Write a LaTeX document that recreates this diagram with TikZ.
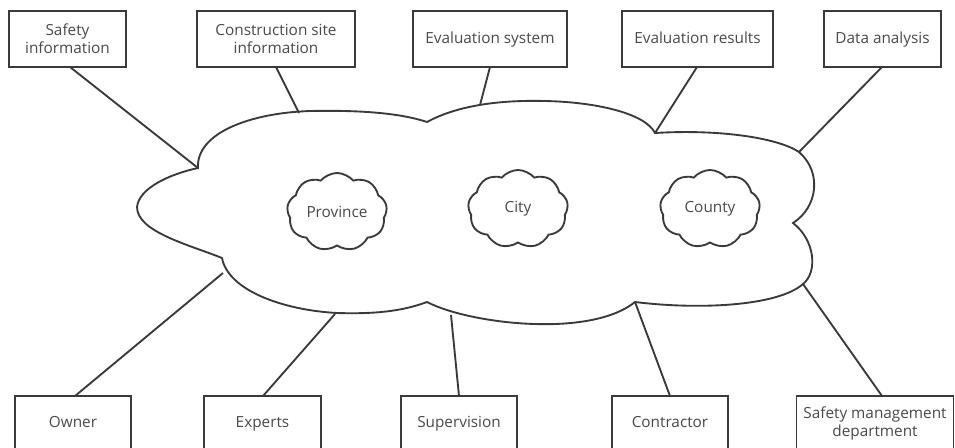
\documentclass[tikz,border=0pt]{standalone}
\usepackage{fontspec}
\setmainfont{Open Sans}
\usetikzlibrary{shapes.symbols}
\definecolor{ln}{HTML}{3A3A3A}
\definecolor{tx}{HTML}{4A4A4A}
\tikzset{
  box/.style={draw=ln, line width=1.4pt, rectangle, inner sep=0pt, align=center,
    font=\fontsize{11.5}{13.5}\selectfont, text=tx},
  one/.style={text height=8.5pt, text depth=2.5pt},
  conn/.style={draw=ln, line width=1.4pt},
  puff/.style={draw=ln, line width=1.4pt, cloud, cloud puffs=9, cloud puff arc=100,
    aspect=1.3, inner sep=0pt, minimum width=75pt, minimum height=58.5pt,
    font=\fontsize{11.5}{13.5}\selectfont, text=tx},
}
\begin{document}
\begin{tikzpicture}[x=0.75pt,y=-0.75pt]
\clip (0,0) rectangle (955,447);
\fill[white] (0,0) rectangle (955,447);
% top boxes
\node[box, minimum width=87.75pt, minimum height=42pt] (si) at (67.5,39) {Safety\\information};
\node[box, minimum width=118.5pt, minimum height=42pt] (cs) at (276,39) {Construction site\\information};
\node[box, one, minimum width=115.5pt, minimum height=42pt] (es) at (490,39) {Evaluation system};
\node[box, one, minimum width=113.25pt, minimum height=42pt] (er) at (697.5,39) {Evaluation results};
\node[box, one, minimum width=87.75pt, minimum height=42pt] (da) at (882.5,39) {Data analysis};
% bottom boxes
\node[box, one, minimum width=87pt, minimum height=40.5pt] (ow) at (73,423) {Owner};
\node[box, one, minimum width=87.75pt, minimum height=40.5pt] (ex) at (262.5,423) {Experts};
\node[box, one, minimum width=87pt, minimum height=40.5pt] (su) at (459,423) {Supervision};
\node[box, one, minimum width=87pt, minimum height=40.5pt] (co) at (670,423) {Contractor};
\node[box, minimum width=117.75pt, minimum height=40.5pt] (sm) at (875,423) {Safety management\\department};
% big cloud
\draw[conn, fill=white]
  (137,207) .. controls (139,188) and (170,174) .. (198,168)
  coordinate (cA)
  .. controls (196,133) and (250,113) .. (310,111)
  coordinate (cT1)
  .. controls (360,110) and (400,113) .. (427,122)
  .. controls (460,104) and (505,100) .. (545,101)
  coordinate (cT2)
  .. controls (595,102) and (645,113) .. (655,133)
  coordinate (cC)
  .. controls (720,129) and (778,138) .. (799,152)
  coordinate (cT3)
  .. controls (822,172) and (818,207) .. (793,223)
  .. controls (815,240) and (818,272) .. (803,284)
  coordinate (cB1)
  .. controls (778,306) and (700,310) .. (635,302)
  coordinate (cE)
  .. controls (610,322) and (565,325) .. (535,324)
  .. controls (495,323) and (450,314) .. (427,302)
  coordinate (cF)
  .. controls (400,312) and (372,314) .. (337,313)
  coordinate (cB3)
  .. controls (282,310) and (228,290) .. (222,258)
  coordinate (cG)
  .. controls (190,245) and (137,232) .. (137,207) -- cycle;
\coordinate (pES) at (480,105);
\coordinate (pEx) at (335,314);
\coordinate (pSu) at (451,315);
% connectors
\draw[conn] (si) ++(2.5,28) -- (cA);
\draw[conn] (cs) ++(0,28) -- (299,113);
\draw[conn] (es) ++(0,28) -- (pES);
\draw[conn] (er) ++(-0.5,28) -- (cC);
\draw[conn] (da) ++(-0.5,28) -- (cT3);
\draw[conn] (ow) ++(2,-27) -- (223,273);
\draw[conn] (ex) ++(0.5,-27) -- (pEx);
\draw[conn] (su) ++(0,-27) -- (pSu);
\draw[conn] (co) ++(0,-27) -- (cE);
\draw[conn] (sm) ++(7,-27) -- (cB1);
% small clouds
\node[puff] (pr) at (337,212) {Province};
\node[puff] (ci) at (518,209) {City};
\node[puff] (cy) at (710,209) {County};
\end{tikzpicture}
\end{document}
